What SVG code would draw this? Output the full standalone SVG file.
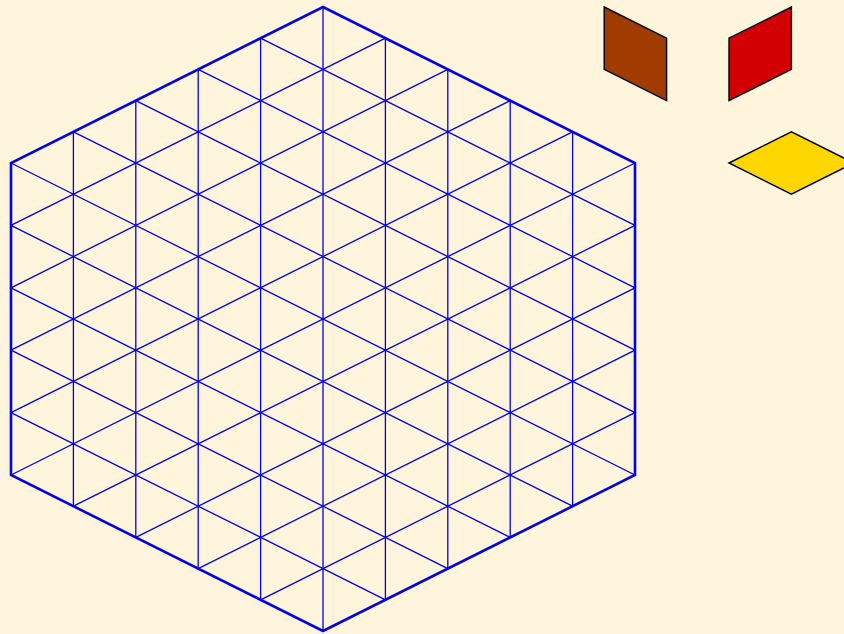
<svg xmlns="http://www.w3.org/2000/svg" width="844" height="634" viewBox="0 0 844 634">
<style>
.bg{fill:#fff5dc}
.grid line{stroke:#0000e0;stroke-width:1.3;stroke-linecap:round}
.hex{fill:none;stroke:#0000e0;stroke-width:2.6;stroke-linejoin:miter}
.tile{stroke:#000;stroke-width:1.4;stroke-linejoin:miter}
</style>
<rect class="bg" x="0" y="0" width="844" height="634"/>
<g id="grid" class="grid">
<line x1="73.4" y1="131.8" x2="73.4" y2="506.2"/>
<line x1="135.8" y1="100.6" x2="135.8" y2="537.4"/>
<line x1="198.2" y1="69.4" x2="198.2" y2="568.6"/>
<line x1="260.6" y1="38.2" x2="260.6" y2="599.8"/>
<line x1="323" y1="7" x2="323" y2="631"/>
<line x1="385.4" y1="38.2" x2="385.4" y2="599.8"/>
<line x1="447.8" y1="69.4" x2="447.8" y2="568.6"/>
<line x1="510.2" y1="100.6" x2="510.2" y2="537.4"/>
<line x1="572.6" y1="131.8" x2="572.6" y2="506.2"/>
<line x1="260.6" y1="38.2" x2="635" y2="225.4"/>
<line x1="198.2" y1="69.4" x2="635" y2="287.8"/>
<line x1="135.8" y1="100.6" x2="635" y2="350.2"/>
<line x1="73.4" y1="131.8" x2="635" y2="412.6"/>
<line x1="11" y1="163" x2="635" y2="475"/>
<line x1="11" y1="225.4" x2="572.6" y2="506.2"/>
<line x1="11" y1="287.8" x2="510.2" y2="537.4"/>
<line x1="11" y1="350.2" x2="447.8" y2="568.6"/>
<line x1="11" y1="412.6" x2="385.4" y2="599.8"/>
<line x1="11" y1="225.4" x2="385.4" y2="38.2"/>
<line x1="11" y1="287.8" x2="447.8" y2="69.4"/>
<line x1="11" y1="350.2" x2="510.2" y2="100.6"/>
<line x1="11" y1="412.6" x2="572.6" y2="131.8"/>
<line x1="11" y1="475" x2="635" y2="163"/>
<line x1="73.4" y1="506.2" x2="635" y2="225.4"/>
<line x1="135.8" y1="537.4" x2="635" y2="287.8"/>
<line x1="198.2" y1="568.6" x2="635" y2="350.2"/>
<line x1="260.6" y1="599.8" x2="635" y2="412.6"/>
</g>
<g id="hexagon">
<polygon class="hex" points="323,7 635,163 635,475 323,631 11,475 11,163"/>
</g>
<g id="brown-tile">
<polygon class="tile" fill="#a03c00" points="604.2,7 666.6,38.2 666.6,100.6 604.2,69.4"/>
</g>
<g id="red-tile">
<polygon class="tile" fill="#d20000" points="729,38.2 791.4,7 791.4,69.4 729,100.6"/>
</g>
<g id="yellow-tile">
<polygon class="tile" fill="#ffd700" points="729,163 791.4,131.8 853.8,163 791.4,194.2"/>
</g>
</svg>
